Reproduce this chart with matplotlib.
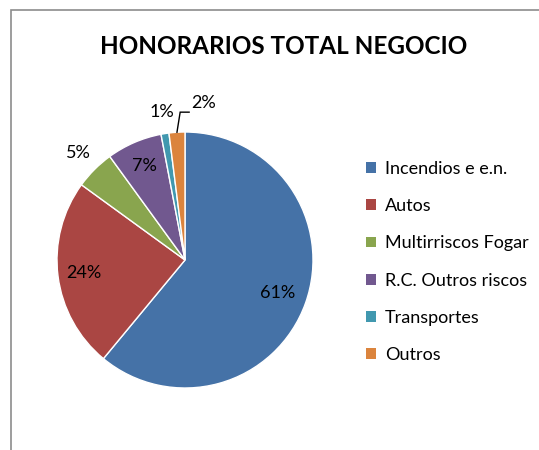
import numpy as np
import matplotlib
matplotlib.use("Agg")
import matplotlib.pyplot as plt
from matplotlib.patches import Rectangle

plt.rcParams['font.family'] = ['Lato', 'DejaVu Sans']

title = "HONORARIOS TOTAL NEGOCIO"
categories = ["Incendios e e.n.", "Autos", "Multirriscos Fogar",
              "R.C. Outros riscos", "Transportes", "Outros"]
values = [61, 24, 5, 7, 1, 2]
colors = ["#4572A7", "#AA4643", "#89A54E", "#71588F", "#4198AF", "#DB843D"]
# radial distance of each percentage label (fraction of radius)
label_r = [0.77, 0.80, 1.18, 0.80, 1.17, 1.0]

fig = plt.figure(figsize=(5.39, 4.5), dpi=100)
fig.patches.append(Rectangle((11 / 539, -0.1), 1.2, 1 - 10 / 450 + 0.1,
                             transform=fig.transFigure, fill=False,
                             edgecolor="#8c8c8c", linewidth=1.2))

fig.text(284 / 539, 1 - 46 / 450, title, ha="center", va="center",
         fontsize=17.5, fontweight="bold")

ax = fig.add_axes([57 / 539, (450 - 388) / 450, 256 / 539, 256 / 450])
wedges, _ = ax.pie(values, colors=colors, startangle=90, counterclock=False,
                   radius=1.0, wedgeprops=dict(linewidth=1.0, edgecolor="white"))
ax.set_xlim(-1, 1)
ax.set_ylim(-1, 1)
ax.set_aspect("equal")
ax.axis("off")

for i, (w, v) in enumerate(zip(wedges, values)):
    mid = np.deg2rad((w.theta1 + w.theta2) / 2)
    txt = "%d%%" % v
    if categories[i] == "Outros":
        # leader line: up from the wedge edge, then right to the label
        x0, y0 = np.cos(mid), np.sin(mid)
        x1, y1 = x0 + 0.025, 1.155
        x2 = x1 + 0.07
        ax.plot([x0, x1, x2], [y0, y1, y1], color="black", lw=1,
                clip_on=False, solid_joinstyle="miter")
        ax.text(x2 + 0.02, y1 + 0.07, txt, ha="left", va="center",
                fontsize=13)
    else:
        r = label_r[i]
        ax.text(r * np.cos(mid), r * np.sin(mid), txt, ha="center", va="center",
                fontsize=13)

handles = [Rectangle((0, 0), 1, 1, facecolor=c) for c in colors]
fig.legend(handles, categories, loc="center left",
           bbox_to_anchor=(350 / 539, 1 - 262 / 450), frameon=False,
           fontsize=13, handlelength=0.55, handleheight=0.55, handletextpad=0.5,
           labelspacing=1.17)

fig.savefig("out.png", dpi=100)
